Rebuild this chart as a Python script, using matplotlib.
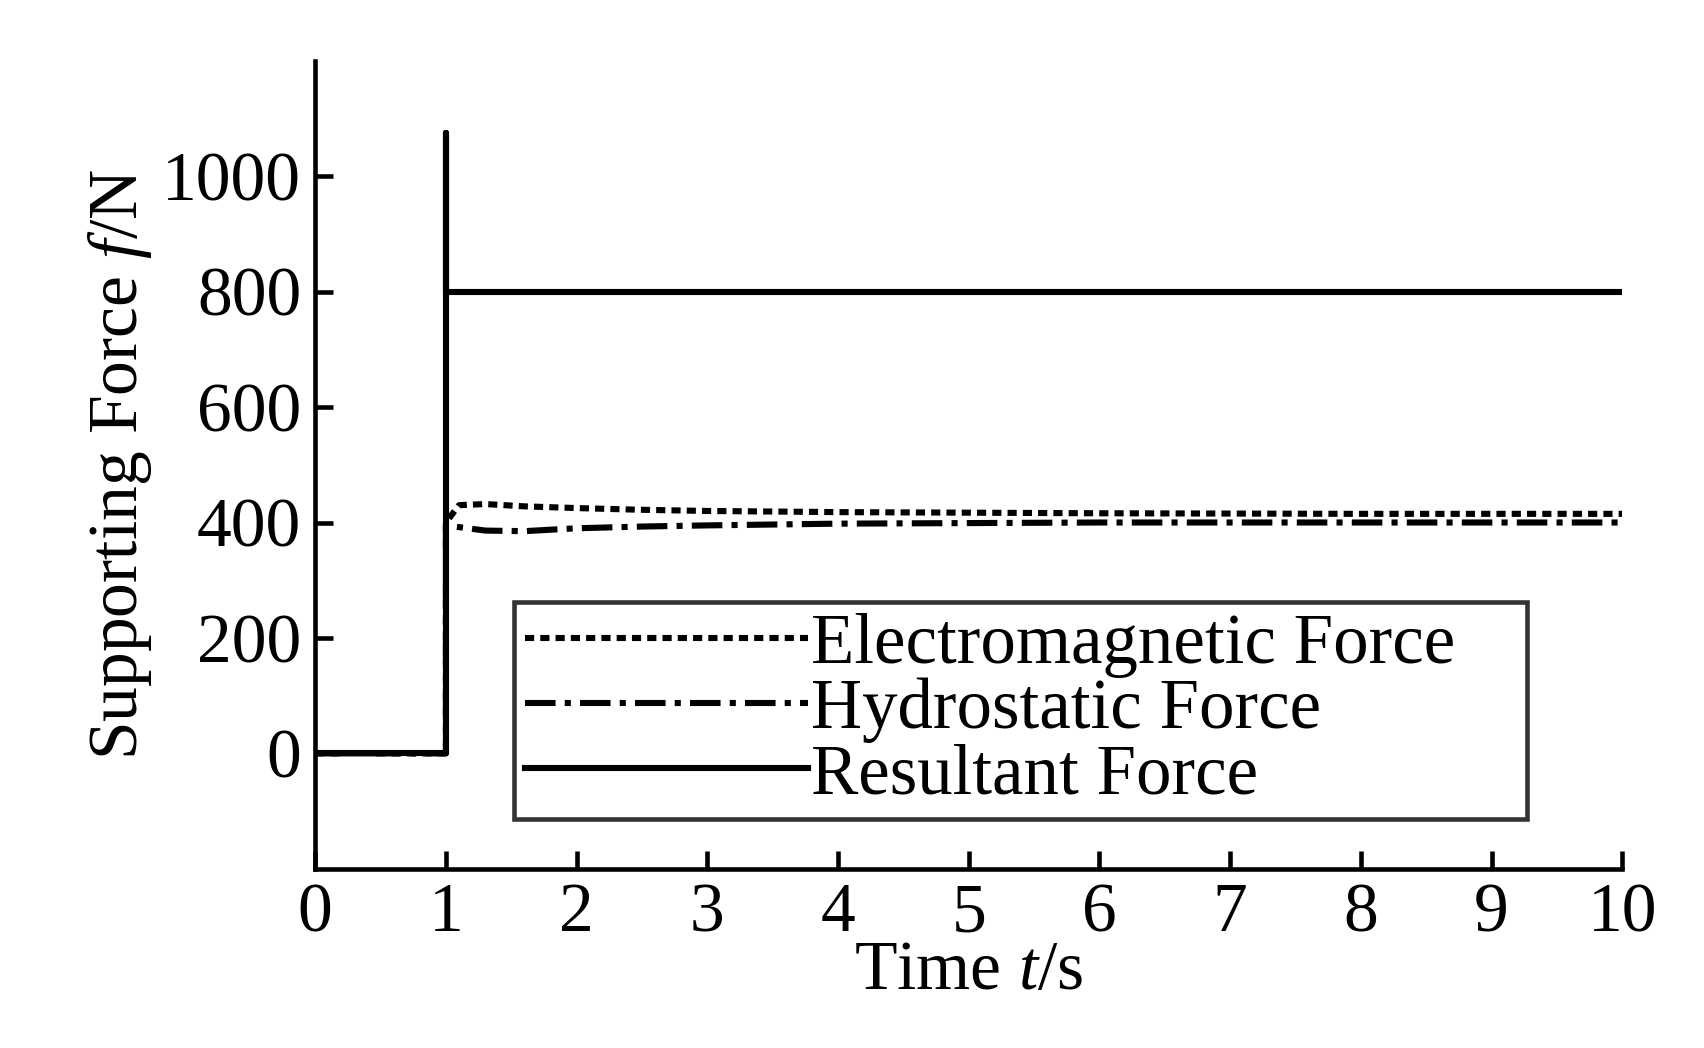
import matplotlib
matplotlib.use("Agg")
import matplotlib.pyplot as plt

plt.rcParams["font.family"] = "Liberation Serif"
plt.rcParams["mathtext.fontset"] = "custom"
plt.rcParams["mathtext.it"] = "Liberation Serif:italic"
plt.rcParams["mathtext.rm"] = "Liberation Serif"

em_t = [0, 1, 1.0, 1.1, 1.3, 1.6, 2.0, 2.5, 3.0, 4.0, 5.0, 6.0, 8.0, 10.0]
em_f = [0, 0, 400, 430, 432, 428, 425, 422, 420, 418, 417, 416, 415, 415]
hy_t = [0, 1, 1.0, 1.1, 1.3, 1.6, 2.0, 2.5, 3.0, 4.0, 5.0, 6.0, 8.0, 10.0]
hy_f = [0, 0, 395, 392, 386, 385, 390, 393, 395, 398, 399, 400, 400, 400]
rs_t = [0, 1, 1.0, 1.0, 1.0, 10.0]
rs_f = [0, 0, 1075, 800, 800, 800]

fig = plt.figure(figsize=(17.04, 10.48), dpi=100)
ax = fig.add_axes([0.185, 0.171, 0.767, 0.771])
ax.plot(em_t, em_f, color="black", lw=4.4, ls=(0, (1.5, 1)), label="Electromagnetic Force")
ax.plot(hy_t, hy_f, color="black", lw=4.4, ls=(0, (5, 1.5, 1, 1.5)), label="Hydrostatic Force")
ax.plot(rs_t, rs_f, color="black", lw=4.4, label="Resultant Force")

ax.set_xlim(0, 10)
ax.set_ylim(-200, 1200)
ax.set_xticks(range(0, 11))
ax.set_yticks([0, 200, 400, 600, 800, 1000])
for s in ("top", "right"):
    ax.spines[s].set_visible(False)
for s in ("left", "bottom"):
    ax.spines[s].set_linewidth(3.3)
ax.tick_params(direction="in", length=13, width=3.3, labelsize=50, pad=10)
ax.set_xlabel("Time $t$/s", fontsize=50, labelpad=-4)
ax.set_ylabel("Supporting Force $f$/N", fontsize=50, labelpad=6)

leg = ax.legend(loc="lower left", bbox_to_anchor=(0.152, 0.062, 0.775, 0.289),
                mode="expand", fontsize=51, frameon=True, fancybox=False,
                edgecolor="black", handlelength=4.0, handletextpad=0.05,
                labelspacing=0.0, borderpad=0.15, borderaxespad=0)
leg.get_frame().set_linewidth(3.3)

fig.savefig("out.png", dpi=100)
